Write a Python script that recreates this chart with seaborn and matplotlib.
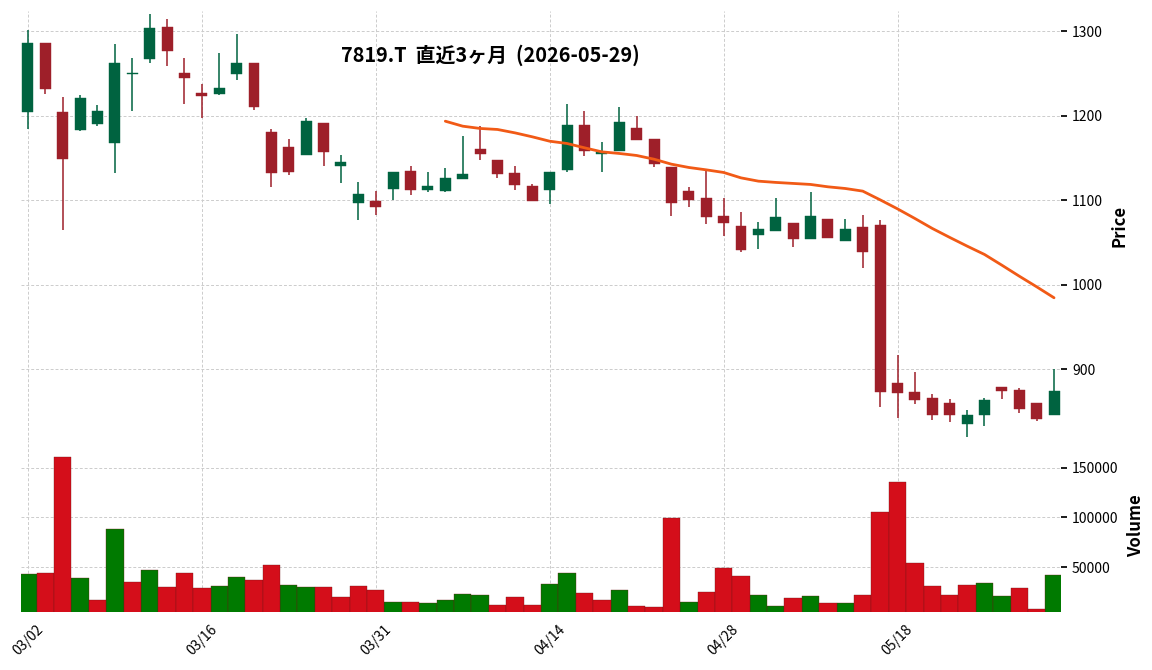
import numpy as np
import pandas as pd
import matplotlib
matplotlib.use("Agg")
import matplotlib.pyplot as plt
import seaborn as sns

# trading days shown on the chart
dates = [
    "2026-03-02", "2026-03-03", "2026-03-04", "2026-03-05", "2026-03-06",
    "2026-03-09", "2026-03-10", "2026-03-11", "2026-03-12", "2026-03-13",
    "2026-03-16", "2026-03-17", "2026-03-18", "2026-03-19", "2026-03-23",
    "2026-03-24", "2026-03-25", "2026-03-26", "2026-03-27", "2026-03-30",
    "2026-03-31", "2026-04-01", "2026-04-02", "2026-04-03", "2026-04-06",
    "2026-04-07", "2026-04-08", "2026-04-09", "2026-04-10", "2026-04-13",
    "2026-04-14", "2026-04-15", "2026-04-16", "2026-04-17", "2026-04-20",
    "2026-04-21", "2026-04-22", "2026-04-23", "2026-04-24", "2026-04-27",
    "2026-04-28", "2026-04-30", "2026-05-01", "2026-05-07", "2026-05-08",
    "2026-05-11", "2026-05-12", "2026-05-13", "2026-05-14", "2026-05-15",
    "2026-05-18", "2026-05-19", "2026-05-20", "2026-05-21", "2026-05-22",
    "2026-05-25", "2026-05-26", "2026-05-27", "2026-05-28", "2026-05-29",
]

opens = [1204, 1286, 1204, 1183, 1190, 1168, 1249, 1267, 1305, 1250,
         1227, 1226, 1249, 1262, 1181, 1163, 1154, 1191, 1141, 1097,
         1099, 1113, 1134, 1112, 1111, 1125, 1160, 1148, 1132, 1117,
         1112, 1136, 1189, 1155, 1158, 1186, 1172, 1139, 1111, 1102,
         1081, 1069, 1059, 1064, 1073, 1054, 1078, 1052, 1068, 1070,
         884, 873, 866, 860, 835, 845, 879, 875, 860, 845]
highs = [1302, 1286, 1222, 1224, 1213, 1285, 1268, 1320, 1315, 1268,
         1238, 1274, 1297, 1262, 1184, 1173, 1197, 1191, 1154, 1122,
         1111, 1133, 1141, 1133, 1138, 1176, 1188, 1148, 1140, 1119,
         1133, 1214, 1205, 1169, 1210, 1200, 1172, 1139, 1115, 1134,
         1103, 1086, 1074, 1102, 1073, 1110, 1078, 1078, 1082, 1077,
         917, 896, 870, 864, 852, 866, 879, 877, 860, 900]
lows = [1184, 1226, 1065, 1182, 1188, 1132, 1206, 1262, 1259, 1214,
        1197, 1225, 1242, 1207, 1116, 1130, 1154, 1141, 1120, 1076,
        1082, 1100, 1106, 1110, 1110, 1125, 1148, 1126, 1112, 1099,
        1096, 1133, 1152, 1133, 1158, 1171, 1139, 1081, 1092, 1072,
        1057, 1039, 1042, 1064, 1045, 1054, 1055, 1052, 1020, 855,
        842, 859, 840, 837, 819, 833, 864, 848, 839, 845]
closes = [1286, 1232, 1149, 1221, 1205, 1262, 1251, 1304, 1277, 1245,
          1223, 1233, 1262, 1210, 1132, 1133, 1194, 1157, 1145, 1107,
          1092, 1133, 1112, 1117, 1126, 1131, 1155, 1131, 1118, 1099,
          1133, 1189, 1158, 1157, 1192, 1171, 1143, 1097, 1100, 1080,
          1073, 1041, 1066, 1080, 1054, 1081, 1055, 1066, 1039, 873,
          872, 863, 846, 845.5, 845, 863, 874, 853, 841, 874]
volumes = [42700, 43700, 161000, 38700, 16700, 88700, 34700, 46700, 29700, 43700,
           28700, 30700, 39700, 36700, 51700, 31700, 29700, 29700, 19700, 30700,
           26700, 14700, 14700, 13700, 16700, 22700, 21700, 11700, 19700, 11700,
           32700, 43700, 23700, 16700, 26700, 10700, 9700, 99700, 14700, 24700,
           48700, 40700, 21700, 10700, 18700, 20700, 13700, 13700, 21700, 105700,
           135700, 53700, 30700, 21700, 31700, 33700, 20700, 28700, 7700, 41700]

# 25-day moving average as drawn (starts on the 25th session)
ma_start = 24
ma25 = [1193.5, 1187.6, 1184.9, 1183.7, 1179.7, 1175.0, 1169.8, 1167.1, 1162.0,
        1157.2, 1155.3, 1152.9, 1148.5, 1142.6, 1138.7, 1135.9, 1132.8, 1126.4,
        1122.5, 1121.0, 1119.8, 1118.6, 1115.8, 1113.8, 1110.7, 1100.4, 1089.7,
        1078.3, 1066.5, 1055.9, 1045.6, 1035.7, 1023.0, 1010.0, 997.4, 984.4]

title = "7819.T  直近3ヶ月  (2026-05-29)"

UP = "#006340"
DOWN = "#9e1f29"
VOL_UP = "#007a00"
VOL_DOWN = "#d40e1a"
MA_COLOR = "#f15a16"

sns.set_theme(style="whitegrid", rc={
    "grid.linestyle": (0, (3, 2)),
    "grid.color": "#cccccc",
    "grid.linewidth": 0.7,
    "xtick.major.size": 4,
    "ytick.major.size": 4,
    "xtick.color": "#000000",
    "ytick.color": "#000000",
    "text.color": "#000000",
    "axes.labelcolor": "#000000",
})
plt.rcParams["font.family"] = ["Noto Sans CJK JP", "DejaVu Sans"]

df = pd.DataFrame({"date": pd.to_datetime(dates), "open": opens, "high": highs,
                   "low": lows, "close": closes, "volume": volumes})
df["i"] = np.arange(len(df))
df["up"] = df["close"] >= df["open"]
prev = df["close"].shift(1).fillna(df["open"])
df["vdir"] = np.where(df["close"] >= prev, "up", "down")

fig = plt.figure(figsize=(11.52, 6.7), dpi=100)
ax1 = fig.add_axes([0.0182, 0.3433, 0.9028, 0.6403])
ax2 = fig.add_axes([0.0182, 0.0866, 0.9028, 0.2567], sharex=ax1)

# candles
ccol = np.where(df["up"], UP, DOWN)
ax1.vlines(df["i"], df["low"], df["high"], colors=ccol, linewidth=1.1, zorder=2)
body_lo = np.minimum(df["open"], df["close"])
body_h = np.maximum(np.abs(df["close"] - df["open"]), 1.2)
ax1.bar(df["i"], body_h, bottom=body_lo, width=0.63, color=ccol,
        edgecolor=ccol, linewidth=0.3, zorder=3)

ma_df = pd.DataFrame({"i": np.arange(ma_start, ma_start + len(ma25)), "ma": ma25})
sns.lineplot(data=ma_df, x="i", y="ma", ax=ax1, color=MA_COLOR, linewidth=2.0, zorder=4)

# volume
sns.barplot(data=df, x="i", y="volume", hue="vdir", ax=ax2, native_scale=True,
            palette={"up": VOL_UP, "down": VOL_DOWN}, width=1.0, dodge=False,
            legend=False, edgecolor="#6e1515", linewidth=0.25, saturation=1)

n = len(df)
ax1.set_xlim(-0.4, n - 0.6)
ax1.set_ylim(816, 1324)
ax2.set_ylim(5000, 177700)

for ax in (ax1, ax2):
    for s in ax.spines.values():
        s.set_visible(False)
    ax.yaxis.tick_right()
    ax.yaxis.set_label_position("right")
    ax.grid(True, axis="both")
    ax.set_axisbelow(True)
    ax.tick_params(axis="y", labelsize=10, pad=4)

ax1.set_yticks([900, 1000, 1100, 1200, 1300])
ax2.set_yticks([50000, 100000, 150000])
ax2.set_yticklabels(["50000", "100000", "150000"])

tick_idx = list(range(0, n, 10))
ax2.set_xticks(tick_idx)
ax2.set_xticklabels([df["date"][k].strftime("%m/%d") for k in tick_idx],
                    rotation=45, ha="center", fontsize=10)
ax1.tick_params(axis="x", length=0, labelbottom=False)

ax1.set_xlabel("")
ax2.set_xlabel("")
ax1.set_ylabel("Price", fontsize=12, fontweight="bold", labelpad=5)
ax2.set_ylabel("Volume", fontsize=12, fontweight="bold", labelpad=6)

fig.text(0.426, 0.918, title, ha="center", va="center", fontsize=14.3, fontweight="bold")

fig.savefig("out.png", dpi=100)
